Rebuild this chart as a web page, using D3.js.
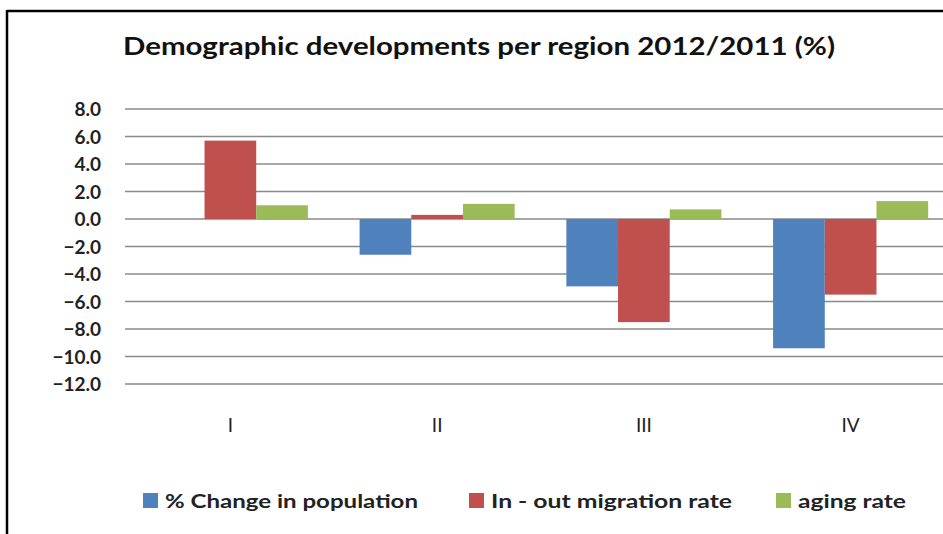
<!DOCTYPE html>
<html><head><meta charset="utf-8">
<script src="https://cdn.jsdelivr.net/npm/d3@7"></script>
<style>body{margin:0;background:#fff}svg{display:block}</style>
</head><body>
<svg id="c" width="943" height="534"></svg>
<script>
const categories = ["I", "II", "III", "IV"];
const seriesNames = ["% Change in population", "In - out migration rate", "aging rate"];
const popChange = [null, -2.6, -4.9, -9.4];
const migration = [5.7, 0.3, -7.5, -5.5];
const aging = [1.0, 1.1, 0.7, 1.3];
const yTicks = [8, 6, 4, 2, 0, -2, -4, -6, -8, -10, -12];
const colors = ["#4F81BD", "#C0504D", "#9BBB59"];

const series = [popChange, migration, aging];
const svg = d3.select("#c");
const font = "Lato, 'Open Sans', sans-serif";

// frame
svg.append("line").attr("x1",7).attr("x2",943).attr("y1",11).attr("y2",11).attr("stroke","#000").attr("stroke-width",2.5);
svg.append("line").attr("x1",7).attr("x2",7).attr("y1",10).attr("y2",534).attr("stroke","#000").attr("stroke-width",2.5);

// title
svg.append("text").attr("x",123).attr("y",55).attr("font-family",font).attr("font-weight","bold")
  .attr("font-size",24).attr("fill","#111").attr("textLength",712).attr("lengthAdjust","spacingAndGlyphs")
  .text("Demographic developments per region 2012/2011 (%)");

const y = d3.scaleLinear().domain([-12, 8]).range([384, 109]);
const x0 = d3.scaleBand().domain(categories).range([127, 954]).paddingInner(0.25).paddingOuter(0.125);
const x1 = d3.scaleBand().domain(d3.range(series.length)).range([0, x0.bandwidth()]);

// gridlines
svg.append("g").selectAll("line").data(yTicks).join("line")
  .attr("x1",125).attr("x2",943).attr("y1",d=>y(d)).attr("y2",d=>y(d))
  .attr("stroke","#8a8a8a").attr("stroke-width",1.4);

// y axis labels
const yAxis = d3.axisLeft(y).tickValues(yTicks).tickFormat(d3.format(".1f")).tickSize(0).tickPadding(0);
const ya = svg.append("g").attr("transform","translate(101,0)").call(yAxis);
ya.select(".domain").remove();
ya.selectAll("text").attr("font-family",font).attr("font-weight","bold").attr("font-size",19)
  .attr("fill","#222").attr("dy","0.36em");

// bars
const rows = [];
categories.forEach((c,i)=>series.forEach((s,j)=>{ if(s[i]!==null) rows.push({c, j, v:s[i]}); }));
svg.append("g").selectAll("rect").data(rows).join("rect")
  .attr("x", d=>x0(d.c)+x1(d.j))
  .attr("width", x1.bandwidth())
  .attr("y", d=>y(Math.max(0,d.v)))
  .attr("height", d=>Math.abs(y(d.v)-y(0)))
  .attr("fill", d=>colors[d.j]);

// category labels
const xAxis = d3.axisBottom(x0).tickSize(0).tickPadding(0);
const xa = svg.append("g").attr("transform","translate(0,432)").call(xAxis);
xa.select(".domain").remove();
xa.selectAll("text").attr("font-family",font).attr("font-size",19).attr("fill","#222").attr("dy",0);

// legend
const legendX = [143, 469, 776];
const legendTextLen = [253, 241, 108];
const lg = svg.append("g").selectAll("g").data(seriesNames).join("g")
  .attr("transform",(d,i)=>`translate(${legendX[i]},0)`);
lg.append("rect").attr("x",0).attr("y",493).attr("width",15).attr("height",15).attr("fill",(d,i)=>colors[i]);
lg.append("text").attr("x",22).attr("y",508).attr("font-family",font).attr("font-weight","bold")
  .attr("font-size",19).attr("fill","#222")
  .attr("textLength",(d,i)=>legendTextLen[i]).attr("lengthAdjust","spacingAndGlyphs").text(d=>d);
</script>
</body></html>
